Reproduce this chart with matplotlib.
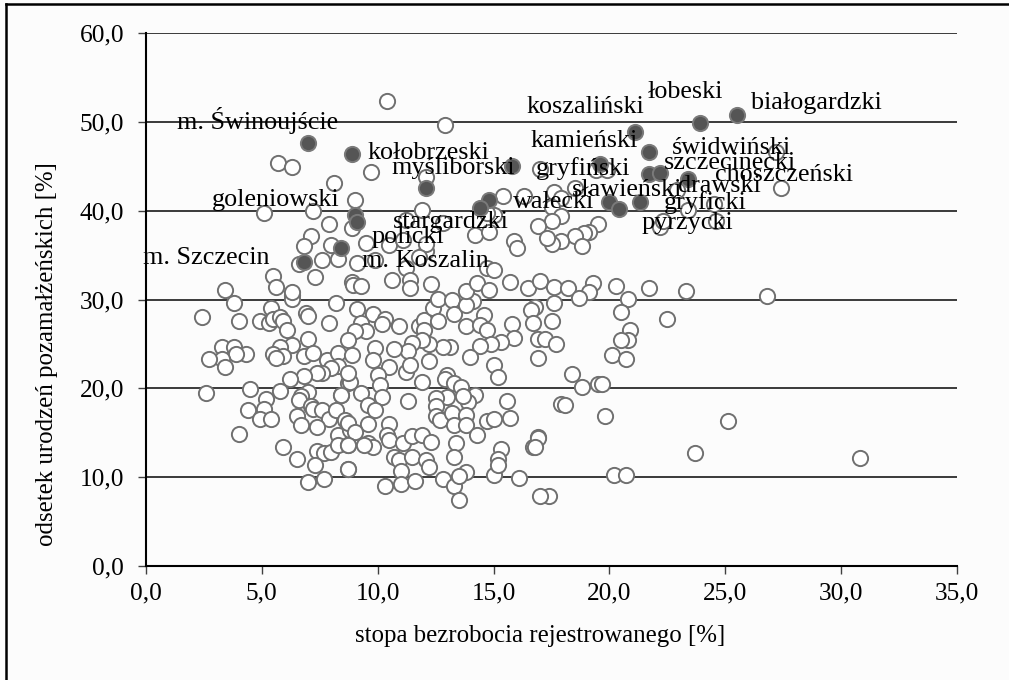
import matplotlib
matplotlib.use('Agg')
import matplotlib.pyplot as plt
from matplotlib.lines import Line2D

plt.rcParams['font.family'] = ['Liberation Serif', 'DejaVu Serif']

# powiaty bez wyroznienia: (stopa bezrobocia, odsetek urodzen)
pozostale = [
    (2.4,28.0),(3.8,29.6),(3.4,31.1),(4.0,27.6),(5.4,29.0),(4.9,27.6),(5.3,27.3),(5.5,27.8),(5.8,28.0),(5.9,27.6),
    (6.1,26.6),(6.3,30.5),(6.3,30.1),(6.9,28.5),(7.0,28.1),(7.9,27.4),(8.2,29.6),(7.0,25.6),(6.3,24.9),(5.8,24.7),
    (3.3,24.7),(3.8,24.7),(4.3,23.9),(3.9,23.9),(3.3,23.3),(2.7,23.3),(3.4,22.4),(5.5,23.9),(5.9,23.6),(5.6,23.4),
    (6.8,23.6),(7.2,24.0),(7.8,23.2),(8.3,24.0),(8.3,22.5),(8.0,22.3),(7.6,21.7),(7.4,21.7),(6.8,21.4),(6.2,21.0),
    (4.5,19.9),(2.6,19.5),(5.8,19.7),(5.2,18.8),(5.1,17.7),(4.4,17.6),(4.9,16.5),(5.4,16.5),(4.0,14.9),(7.0,19.6),
    (6.7,19.1),(6.6,18.7),(7.1,18.0),(7.2,17.7),(7.6,17.6),(7.9,16.5),(8.2,17.6),(6.5,16.9),(6.7,15.9),(7.4,15.6),
    (8.3,14.8),(5.9,13.4),(6.5,12.0),(7.4,13.0),(7.7,12.7),(8.0,12.8),(7.3,11.4),(7.0,9.5),(7.7,9.8),(8.7,10.9),
    (8.4,19.3),(8.7,20.6),(8.6,16.4),(8.3,13.6),(8.7,13.6),(8.8,15.3),
    (9.1,28.9),(9.8,28.4),(10.3,27.8),(10.2,27.2),(9.3,27.4),(9.5,26.4),(9.0,26.4),(10.9,27.0),(8.7,25.4),(11.8,27.0),
    (12.0,27.7),(12.0,26.6),(12.4,29.0),(12.6,30.1),(12.6,27.6),(13.2,30.0),(13.3,28.4),(14.1,29.8),(13.8,29.4),(14.6,28.3),
    (13.8,27.0),(14.4,27.1),(14.7,26.6),(15.8,27.2),(15.9,25.7),(15.3,25.2),(14.9,25.0),(14.4,24.8),(14.0,23.5),(15.0,22.6),
    (15.2,21.3),(13.1,24.7),(12.8,24.7),(12.2,25.0),(11.9,25.4),(11.5,25.1),(11.3,24.2),(10.7,24.4),(9.9,24.5),(8.9,23.7),
    (9.8,23.2),(10.5,22.4),(11.2,21.8),(12.2,23.1),(11.4,22.6),(11.9,20.7),(10.0,21.5),(10.1,20.4),(8.8,20.7),(8.7,21.7),
    (9.3,19.5),(10.2,19.0),(9.6,18.1),(9.9,17.6),(8.4,19.3),(11.3,18.6),(13.0,21.5),(12.9,21.0),(13.3,20.6),(13.6,20.1),
    (14.2,19.3),(13.9,18.5),(13.7,19.1),(13.0,19.0),(12.5,18.9),(12.5,18.0),(12.5,16.9),(12.7,16.4),(13.2,17.2),(13.8,17.0),
    (13.3,15.9),(13.8,15.9),(14.3,14.7),(14.7,16.3),(15.0,16.5),(15.7,16.7),(15.6,18.6),(9.6,16.0),(10.5,16.0),(8.7,16.1),
    (9.0,15.1),(10.4,14.8),(10.5,14.2),(9.6,13.8),(9.8,13.4),(8.7,13.6),(9.4,13.6),(11.1,13.8),(11.5,14.6),(11.9,14.8),
    (12.3,14.0),(13.4,13.9),(13.3,12.3),(10.7,12.3),(10.9,11.9),(11.5,12.3),(12.1,11.9),(12.2,11.2),(11.0,10.7),(8.7,10.9),
    (10.3,9.0),(11.0,9.2),(11.6,9.6),(12.8,9.8),(13.3,9.0),(13.5,7.4),(13.8,10.6),(13.5,10.1),(15.0,10.3),(16.1,9.9),
    (15.3,13.2),(15.2,12.1),(15.2,11.4),(16.7,13.4),(16.9,14.5),
    (16.5,31.3),(17.0,32.1),(17.6,31.4),(18.2,31.3),(19.3,31.9),(19.1,30.8),(18.7,30.2),(20.3,31.5),(21.7,31.3),(23.3,31.0),
    (20.8,30.1),(26.8,30.4),(17.6,29.6),(16.8,29.1),(16.6,28.8),(20.5,28.6),(22.5,27.8),(17.5,27.6),(16.7,27.3),(20.9,26.6),
    (20.8,25.4),(20.5,25.4),(16.9,25.5),(17.2,25.6),(17.7,25.0),(20.1,23.7),(20.7,23.3),(16.9,23.4),(18.4,21.6),(18.8,20.1),
    (19.5,20.5),(19.7,20.5),(17.9,18.2),(18.1,18.1),(19.8,16.9),(25.1,16.3),(16.9,14.4),(16.8,13.4),(23.7,12.7),(20.2,10.3),
    (20.7,10.2),(30.8,12.2),(17.4,7.9),(17.0,7.9),
    (10.4,52.3),(12.9,49.6),(5.7,45.4),(6.3,44.9),(9.7,44.3),(8.1,43.1),(12.1,43.8),(9.0,41.2),(5.1,39.7),(7.2,40.0),
    (11.9,40.1),(7.9,38.5),(8.9,38.1),(11.2,38.9),(12.8,38.6),(14.2,37.3),(14.8,37.6),(15.0,39.5),(14.7,39.7),(7.1,37.1),
    (6.8,36.0),(8.0,36.1),(9.5,36.4),(10.5,36.1),(11.1,36.7),(12.1,35.5),(12.1,36.3),(8.3,34.6),(7.6,34.4),(9.1,34.1),
    (9.9,34.4),(6.6,34.0),(11.2,33.5),(11.8,34.8),(14.7,33.5),(15.0,33.3),(7.3,32.5),(5.5,32.7),(5.6,31.4),(8.9,32.0),
    (8.95,31.6),(9.3,31.5),(10.6,32.2),(11.4,32.2),(11.4,31.3),(12.3,31.7),(13.8,31.0),(14.3,31.9),(14.8,31.1),(6.3,30.8),
    (17.0,44.7),(19.4,44.6),(19.9,44.6),(18.5,42.6),(17.6,42.1),(17.9,41.4),(16.3,41.6),(15.4,41.6),(22.9,42.3),(27.2,46.6),
    (27.4,42.6),(24.5,40.8),(23.4,40.1),(24.6,38.8),(22.2,38.2),(22.3,38.8),(17.5,40.4),(17.9,39.4),(17.5,38.8),(16.9,38.3),
    (19.5,38.5),(19.1,37.6),(18.9,37.5),(18.5,37.1),(17.9,36.6),(17.5,36.3),(17.3,36.9),(18.8,36.0),(15.9,36.6),(16.0,35.8),
    (15.7,32.0),
]
pozostale_x = [p[0] for p in pozostale]
pozostale_y = [p[1] for p in pozostale]

# powiaty wyroznione
wyroznione_x = [7.0, 8.9, 12.1, 14.8, 14.4, 9.0, 9.1, 8.4, 6.8, 15.8, 21.1, 23.9, 25.5, 21.7, 19.6, 21.7, 22.2, 23.4, 20.0, 21.3, 20.4]
wyroznione_y = [47.6, 46.4, 42.6, 41.2, 40.3, 39.5, 38.7, 35.8, 34.2, 45.0, 48.9, 49.9, 50.8, 46.6, 45.2, 44.1, 44.2, 43.6, 41.0, 41.0, 40.2]

etykiety = ['m. Świnoujście', 'koszaliński', 'łobeski', 'białogardzki', 'kołobrzeski', 'kamieński', 'świdwiński',
            'szczecinecki', 'myśliborski', 'gryfiński', 'choszczeński', 'goleniowski', 'sławieński', 'drawski',
            'wałecki', 'gryficki', 'stargardzki', 'pyrzycki', 'policki', 'm. Szczecin', 'm. Koszalin']
etykiety_x = [1.34, 16.44, 21.67, 26.1, 9.54, 16.6, 22.7, 22.36, 10.57, 16.83, 24.56, 2.85, 18.4, 22.96, 15.84, 22.36, 10.66, 21.4, 9.75, -0.13, 9.32]
etykiety_y = [50.2, 51.7, 53.4, 52.1, 46.5, 47.8, 47.1, 45.4, 44.8, 44.8, 44.0, 41.2, 42.3, 42.8, 41.0, 40.9, 38.7, 38.6, 37.0, 34.7, 34.3]

x_ticks = [0, 5, 10, 15, 20, 25, 30, 35]
y_ticks = [0, 10, 20, 30, 40, 50, 60]

fig = plt.figure(figsize=(10.09, 6.8), dpi=100, facecolor='#fcfcfc')
ax = fig.add_axes([146/1009, 1 - 566/680, 811/1009, 533/680], facecolor='#fcfcfc')

ax.scatter(pozostale_x, pozostale_y, s=120, facecolor='white', edgecolor='#707070', linewidth=1.4, zorder=3, clip_on=False)
ax.scatter(wyroznione_x, wyroznione_y, s=120, facecolor='#555555', edgecolor='#7a7a7a', linewidth=1.4, zorder=4, clip_on=False)

for nazwa, ex, ey in zip(etykiety, etykiety_x, etykiety_y):
    ax.text(ex, ey, nazwa, fontsize=18.8, color='black', ha='left', va='center', zorder=5)

ax.set_xlim(0, 35)
ax.set_ylim(0, 60)
ax.set_xticks(x_ticks)
ax.set_yticks(y_ticks)
ax.set_xticklabels([f'{v:.1f}'.replace('.', ',') for v in x_ticks])
ax.set_yticklabels([f'{v:.1f}'.replace('.', ',') for v in y_ticks])
ax.tick_params(axis='both', labelsize=18.3, length=5.8, width=1, color='#404040')
ax.tick_params(axis='y', pad=10)
ax.tick_params(axis='x', pad=6)
ax.grid(True, axis='y', color='#1a1a1a', linewidth=1.2, zorder=1)
ax.set_axisbelow(True)

ax.spines['top'].set_visible(False)
ax.spines['right'].set_visible(False)
ax.spines['left'].set_linewidth(1.5)
ax.spines['bottom'].set_linewidth(1.5)

ax.set_xlabel('stopa bezrobocia rejestrowanego [%]', fontsize=17.9, va='center')
ax.set_ylabel('odsetek urodzeń pozamałżeńskich [%]', fontsize=17.9, va='center')
ax.xaxis.set_label_coords(0.486, -0.131)
ax.yaxis.set_label_coords(-0.122, 0.398)

# ramka wykresu, widoczna tylko z lewej i u gory
fig.add_artist(Line2D([6/1009, 6/1009], [0, 1 - 4/680], color='black', linewidth=1.8))
fig.add_artist(Line2D([6/1009, 1], [1 - 4/680, 1 - 4/680], color='black', linewidth=1.8))

fig.savefig('out.png', dpi=100, facecolor=fig.get_facecolor())
